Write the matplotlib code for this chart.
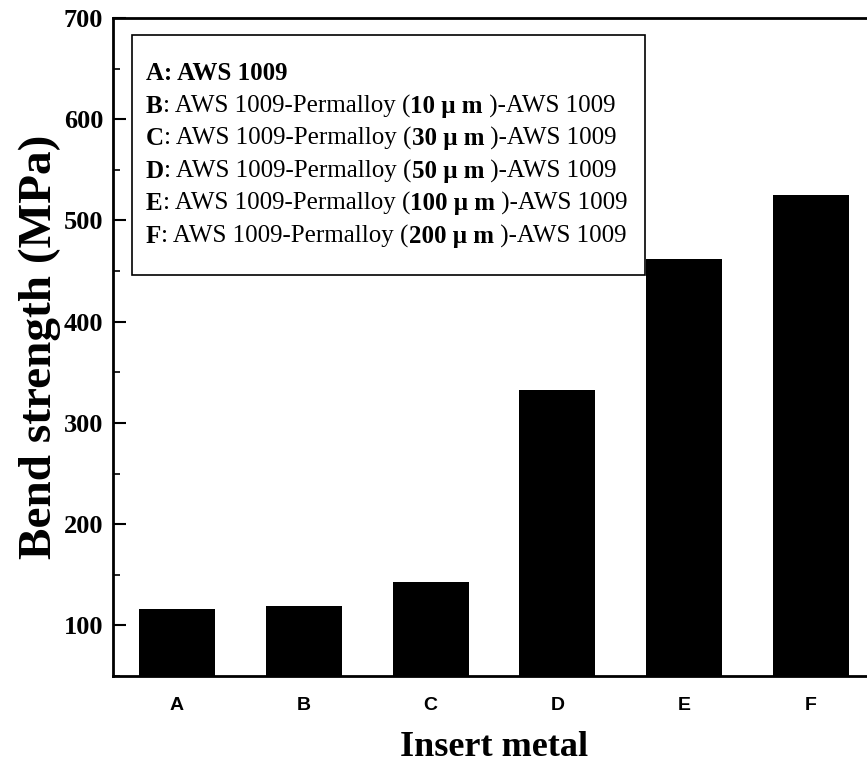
import matplotlib.pyplot as plt
from matplotlib.patches import Rectangle
from matplotlib.ticker import MultipleLocator

# =========================
# DATOS
# =========================

categories = ["A", "B", "C", "D", "E", "F"]
bend_strength = [116, 119, 143, 333, 462, 525]  # MPa

legend_labels = ["AWS 1009"] + [
    f"{t} μ m" for t in ["10", "30", "50", "100", "200"]
]

SERIF = "Liberation Serif"
SANS = "Liberation Sans"

# =========================
# FIGURA
# =========================

fig = plt.figure(figsize=(8.67, 7.67), dpi=100)
W, H = 867, 767
ax = fig.add_axes([113 / W, 1 - 676 / H, 762 / W, 658 / H])

ax.bar(range(len(categories)), bend_strength, width=0.6, color="black", zorder=2)

ax.set_xlim(-0.505, 5.505)
ax.set_ylim(50, 700)
ax.set_xticks(range(len(categories)))
ax.set_xticklabels(categories, fontfamily=SANS, fontweight="bold", fontsize=14)
ax.set_yticks(range(100, 701, 100))
ax.yaxis.set_minor_locator(MultipleLocator(50))
for lab in ax.get_yticklabels():
    lab.set_fontfamily(SERIF)
    lab.set_fontweight("bold")
    lab.set_fontsize(19)

ax.tick_params(axis="y", which="major", direction="in", length=9, width=1.5, pad=7)
ax.tick_params(axis="y", which="minor", direction="in", length=5, width=1.2)
ax.tick_params(axis="x", length=0, pad=15)
for s in ax.spines.values():
    s.set_linewidth(2)

ax.set_ylabel("Bend strength (MPa)", fontfamily=SERIF, fontweight="bold", fontsize=34, labelpad=2)
ax.set_xlabel("Insert metal", fontfamily=SERIF, fontweight="bold", fontsize=26, labelpad=12)

# =========================
# CUADRO DE LEYENDA
# =========================

box = Rectangle((132 / W, 1 - 275 / H), (645 - 132) / W, (275 - 35) / H,
                transform=fig.transFigure, facecolor="white", edgecolor="black",
                linewidth=1.2, zorder=5, clip_on=False)
ax.add_patch(box)


def write_line(parts, x, y):
    # parts: lista de (texto, negrita)
    prev = None
    for txt, bold in parts:
        kw = dict(fontfamily=SERIF, fontsize=18, fontweight="bold" if bold else "normal",
                  zorder=6)
        if prev is None:
            prev = ax.text(x, y, txt, ha="left", va="baseline",
                           transform=fig.transFigure, clip_on=False, **kw)
        else:
            prev = ax.annotate(txt, xy=(1, 0), xycoords=prev, ha="left", va="bottom",
                               annotation_clip=False, **kw)


x0 = 146 / W
y_base = 80
dy = 32.6
for i, (cat, lab) in enumerate(zip(categories, legend_labels)):
    y = 1 - (y_base + i * dy) / H
    if i == 0:
        parts = [(f"{cat}: {lab}", True)]
    else:
        parts = [(cat, True), (": AWS 1009-Permalloy (", False), (lab, True),
                 (" )-AWS 1009", False)]
    write_line(parts, x0, y)

fig.savefig("out.png", dpi=100)
